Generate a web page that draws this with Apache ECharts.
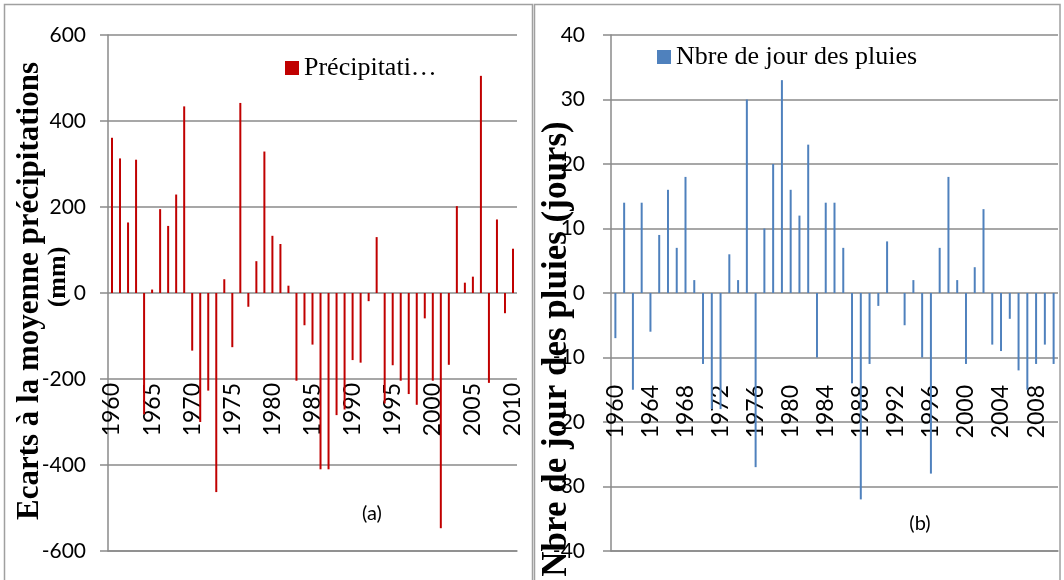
<!DOCTYPE html>
<html>
<head>
<meta charset="utf-8">
<script src="https://cdn.jsdelivr.net/npm/echarts@6/dist/echarts.min.js"></script>
<style>
html,body{margin:0;padding:0;background:#fff;}
#c{width:1064px;height:580px;}
</style>
</head>
<body>
<div id="c"></div>
<script>
const years = ['1960','1961','1962','1963','1964','1965','1966','1967','1968','1969',
'1970','1971','1972','1973','1974','1975','1976','1977','1978','1979',
'1980','1981','1982','1983','1984','1985','1986','1987','1988','1989',
'1990','1991','1992','1993','1994','1995','1996','1997','1998','1999',
'2000','2001','2002','2003','2004','2005','2006','2007','2008','2009','2010'];

const precipitation = [361,313,164,310,-282,8,195,156,229,434,
-134,-300,-227,-463,32,-126,442,-32,74,329,
133,114,17,-204,-75,-120,-410,-410,-284,-271,
-156,-162,-19,130,-257,-168,-204,-235,-260,-59,
-204,-547,-167,202,24,38,505,-209,171,-47,103];

const rainDays = [-7,14,-15,14,-6,9,16,7,18,2,
-11,-18,-18,6,2,30,-27,10,20,33,
16,12,23,-10,14,14,7,-14,-32,-11,
-2,8,0,-5,2,-10,-28,7,18,2,
-11,4,13,-8,-9,-4,-12,-15,-11,-8,-11];

const seriesA = 'Précipitations';
const seriesB = 'Nbre de jour des pluies';
const titleA1 = 'Ecarts à la moyenne précipitations';
const titleA2 = '(mm)';
const titleB = 'Nbre de jour des pluies (jours)';

const gridColor = '#8a8a8a';
const sans = 'Lato';
const serif = 'Liberation Serif';

function xAxis(gridIndex, interval, margin) {
  return {
    type: 'category', gridIndex: gridIndex, data: years, position: 'bottom',
    axisLine: {onZero: false, lineStyle: {color: gridColor, width: 1.5}},
    axisTick: {show: false},
    axisLabel: {interval: interval, rotate: 90, margin: margin, fontFamily: sans, fontSize: 23, color: '#000'},
    splitLine: {show: false}
  };
}
function yAxis(gridIndex, min, max, step, margin) {
  return {
    type: 'value', gridIndex: gridIndex, min: min, max: max, interval: step,
    axisLine: {show: true, lineStyle: {color: gridColor, width: 1.5}},
    axisTick: {show: true, inside: false, length: 8, lineStyle: {color: gridColor, width: 1.5}},
    axisLabel: {margin: margin, fontFamily: sans, fontSize: 21, color: '#000'},
    splitLine: {show: true, lineStyle: {color: gridColor, width: 1.5}}
  };
}

const chart = echarts.init(document.getElementById('c'), null, {renderer: 'canvas'});
chart.setOption({
  animation: false,
  backgroundColor: '#fff',
  grid: [
    {left: 108, right: 547, top: 35, bottom: 29, containLabel: false, outerBoundsMode: 'none'},
    {left: 611, right: 6, top: 35, bottom: 29, containLabel: false, outerBoundsMode: 'none'}
  ],
  xAxis: [xAxis(0, 4, -168), xAxis(1, 3, -166)],
  yAxis: [yAxis(0, -600, 600, 200, 22), yAxis(1, -40, 40, 10, 26)],
  legend: [
    {data: [seriesA], left: 285, top: 55, padding: 0, itemWidth: 14, itemHeight: 14, icon: 'rect', itemGap: 6,
     textStyle: {fontFamily: serif, fontSize: 26, color: '#000'},
     formatter: function () { return 'Précipitati…'; }},
    {data: [seriesB], left: 657, top: 44, padding: 0, itemWidth: 14, itemHeight: 14, icon: 'rect',
     textStyle: {fontFamily: serif, fontSize: 26, color: '#000'}}
  ],
  series: [
    {name: seriesA, type: 'bar', xAxisIndex: 0, yAxisIndex: 0, data: precipitation, barWidth: 2,
     itemStyle: {color: '#C00000'}},
    {name: seriesB, type: 'bar', xAxisIndex: 1, yAxisIndex: 1, data: rainDays, barWidth: 2,
     itemStyle: {color: '#4F81BD'}}
  ],
  graphic: [
    {type: 'rect', shape: {x: 4.5, y: 4.5, width: 528, height: 590}, style: {fill: 'none', stroke: '#a0a0a0', lineWidth: 1.5}, silent: true},
    {type: 'rect', shape: {x: 534.5, y: 4.5, width: 525.5, height: 590}, style: {fill: 'none', stroke: '#a0a0a0', lineWidth: 1.5}, silent: true},
    {type: 'text', x: 30, y: 291, rotation: Math.PI / 2,
     style: {text: titleA1, font: 'bold 31px "Liberation Serif"', fill: '#000', textAlign: 'center', textVerticalAlign: 'middle'}},
    {type: 'text', x: 58, y: 277, rotation: Math.PI / 2,
     style: {text: titleA2, font: 'bold 26px "Liberation Serif"', fill: '#000', textAlign: 'center', textVerticalAlign: 'middle'}},
    {type: 'text', x: 557, y: 349, rotation: Math.PI / 2,
     style: {text: titleB, font: 'bold 35px "Liberation Serif"', fill: '#000', textAlign: 'center', textVerticalAlign: 'middle'}},
    {type: 'text', x: 372, y: 514,
     style: {text: '(a)', font: '20px Lato', fill: '#000', textAlign: 'center', textVerticalAlign: 'middle'}},
    {type: 'text', x: 920, y: 524,
     style: {text: '(b)', font: '20px Lato', fill: '#000', textAlign: 'center', textVerticalAlign: 'middle'}}
  ]
});
</script>
</body>
</html>
